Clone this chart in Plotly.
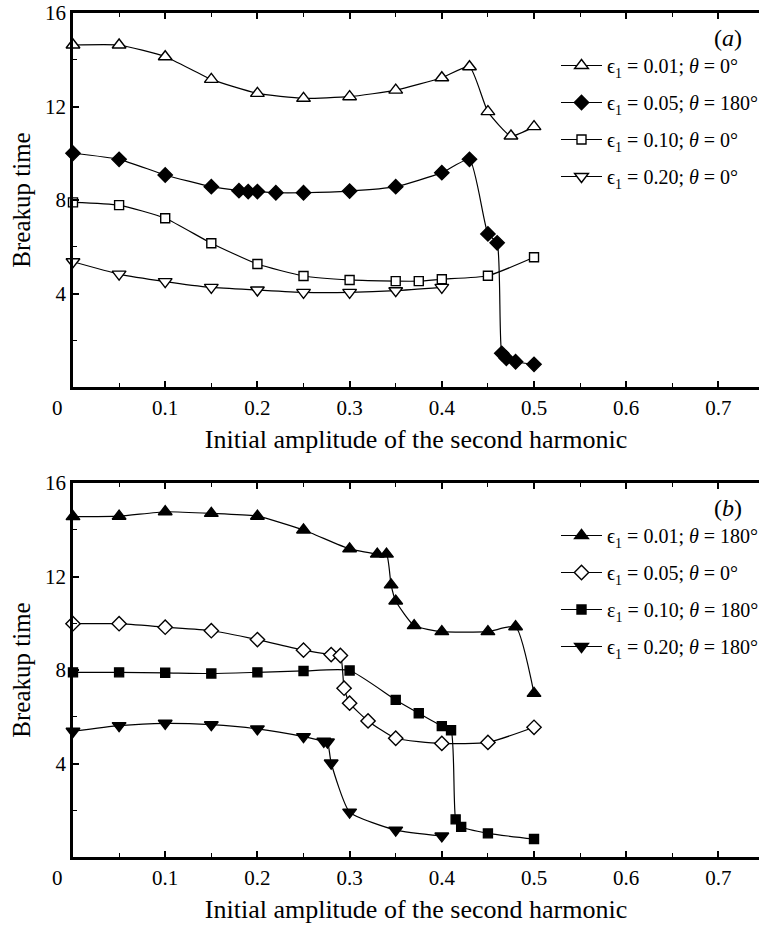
import plotly.graph_objects as go

# ---------------- data: panel (a) ----------------
a1_x = [0.0, 0.05, 0.1, 0.15, 0.2, 0.25, 0.3, 0.35, 0.4, 0.43, 0.45, 0.475, 0.5]
a1_y = [14.63, 14.63, 14.13, 13.16, 12.56, 12.35, 12.42, 12.7, 13.23, 13.7, 11.78, 10.74, 11.14]

a2_x = [0.0, 0.05, 0.1, 0.15, 0.18, 0.19, 0.2, 0.22, 0.25, 0.3, 0.35, 0.4, 0.43, 0.45, 0.46, 0.465, 0.47, 0.48, 0.5]
a2_y = [10.0, 9.74, 9.07, 8.57, 8.4, 8.36, 8.36, 8.31, 8.31, 8.38, 8.57, 9.17, 9.74, 6.55, 6.17, 1.44, 1.23, 1.08, 0.97]

a3_x = [0.0, 0.05, 0.1, 0.15, 0.2, 0.25, 0.3, 0.35, 0.375, 0.4, 0.45, 0.5]
a3_y = [7.9, 7.78, 7.22, 6.15, 5.26, 4.75, 4.58, 4.53, 4.53, 4.61, 4.76, 5.55]

a4_x = [0.0, 0.05, 0.1, 0.15, 0.2, 0.25, 0.3, 0.35, 0.4]
a4_y = [5.36, 4.83, 4.51, 4.26, 4.15, 4.05, 4.05, 4.12, 4.26]

# ---------------- data: panel (b) ----------------
b1_x = [0.0, 0.05, 0.1, 0.15, 0.2, 0.25, 0.3, 0.33, 0.34, 0.345, 0.35, 0.37, 0.4, 0.45, 0.48, 0.5]
b1_y = [14.56, 14.58, 14.77, 14.7, 14.58, 13.99, 13.18, 12.96, 12.96, 11.64, 10.95, 9.9, 9.64, 9.64, 9.85, 7.0]

b2_x = [0.0, 0.05, 0.1, 0.15, 0.2, 0.25, 0.28, 0.29, 0.294, 0.3, 0.32, 0.35, 0.4, 0.45, 0.5]
b2_y = [9.98, 9.98, 9.83, 9.68, 9.3, 8.85, 8.66, 8.62, 7.22, 6.58, 5.82, 5.08, 4.86, 4.9, 5.55]

b3_x = [0.0, 0.05, 0.1, 0.15, 0.2, 0.25, 0.3, 0.35, 0.375, 0.4, 0.41, 0.415, 0.421, 0.45, 0.5]
b3_y = [7.9, 7.9, 7.88, 7.85, 7.9, 7.96, 7.98, 6.72, 6.15, 5.6, 5.42, 1.61, 1.29, 1.01, 0.77]

b4_x = [0.0, 0.05, 0.1, 0.15, 0.2, 0.25, 0.272, 0.276, 0.28, 0.3, 0.35, 0.4]
b4_y = [5.38, 5.62, 5.72, 5.66, 5.48, 5.15, 4.95, 4.92, 4.02, 1.92, 1.15, 0.9]

# legend labels
names_a = ["ϵ<sub>1</sub> = 0.01; <i>θ</i> = 0°",
           "ϵ<sub>1</sub> = 0.05; <i>θ</i> = 180°",
           "ϵ<sub>1</sub> = 0.10; <i>θ</i> = 0°",
           "ϵ<sub>1</sub> = 0.20; <i>θ</i> = 0°"]
names_b = ["ϵ<sub>1</sub> = 0.01; <i>θ</i> = 180°",
           "ϵ<sub>1</sub> = 0.05; <i>θ</i> = 0°",
           "ε<sub>1</sub> = 0.10; <i>θ</i> = 180°",
           "ϵ<sub>1</sub> = 0.20; <i>θ</i> = 180°"]

x_ticks = [0.0, 0.1, 0.2, 0.3, 0.4, 0.5, 0.6, 0.7]
x_ticktext = ["0\u00a0\u00a0\u00a0\u00a0\u00a0\u00a0", "0.1", "0.2", "0.3", "0.4", "0.5", "0.6", "0.7"]
y_ticks = [4, 8, 12, 16]
x_title = "Initial amplitude of the second harmonic"
y_title = "Breakup time"

FONT = "Times New Roman, Liberation Serif, Tinos, DejaVu Serif, serif"
W, H = 759, 925

fig = go.Figure()

def add(x, y, name, symbol, fill, size, xa, ya, leg, grp):
    fig.add_trace(go.Scatter(
        x=x, y=y, name=name, mode="lines+markers",
        line=dict(color="black", width=1.2, shape="spline", smoothing=0.5),
        marker=dict(symbol=symbol, size=size, color=fill,
                    line=dict(color="black", width=1.4)),
        xaxis=xa, yaxis=ya, legend=leg, legendgroup=grp, cliponaxis=False))

add(a1_x, a1_y, names_a[0], "triangle-up", "white", 12, "x", "y", "legend", "a1")
add(a2_x, a2_y, names_a[1], "diamond", "black", 11, "x", "y", "legend", "a2")
add(a3_x, a3_y, names_a[2], "square", "white", 9, "x", "y", "legend", "a3")
add(a4_x, a4_y, names_a[3], "triangle-down", "white", 12, "x", "y", "legend", "a4")

add(b1_x, b1_y, names_b[0], "triangle-up", "black", 12, "x2", "y2", "legend2", "b1")
add(b2_x, b2_y, names_b[1], "diamond", "white", 11, "x2", "y2", "legend2", "b2")
add(b3_x, b3_y, names_b[2], "square", "black", 9, "x2", "y2", "legend2", "b3")
add(b4_x, b4_y, names_b[3], "triangle-down", "black", 12, "x2", "y2", "legend2", "b4")

# geometry (pixels -> paper)
left = 73 / W
top_a, bot_a = 13, 387
top_b, bot_b = 483, 857

def xaxis(anchor):
    return dict(domain=[left, 1.0], range=[0, 0.744], anchor=anchor, automargin=False,
                tickmode="array", tickvals=x_ticks, ticktext=x_ticktext,
                ticks="inside", ticklen=6, tickwidth=1.5, tickcolor="black",
                minor=dict(dtick=0.05, ticks="inside", ticklen=4, tickcolor="black", tickwidth=1),
                showline=True, linecolor="black", linewidth=2.5, mirror="ticks",
                showgrid=False, zeroline=False,
                tickfont=dict(family=FONT, size=21, color="black"),
                title=dict(text=x_title, font=dict(family=FONT, size=26, color="black"), standoff=11))

def yaxis(anchor, top, bot):
    return dict(domain=[(H - bot) / H, (H - top) / H], range=[0, 16], anchor=anchor, automargin=False,
                tickmode="array", tickvals=y_ticks,
                ticks="inside", ticklen=6, tickwidth=1.5, tickcolor="black",
                minor=dict(dtick=2, ticks="inside", ticklen=4, tickcolor="black", tickwidth=1),
                showline=True, linecolor="black", linewidth=2.5, mirror=False,
                showgrid=False, zeroline=False,
                tickfont=dict(family=FONT, size=21, color="black"),
                title=dict(text=y_title, font=dict(family=FONT, size=25, color="black"), standoff=8))

leg_common = dict(font=dict(family=FONT, size=20, color="black"), bgcolor="rgba(0,0,0,0)",
                  xanchor="left", yanchor="top", itemwidth=41, tracegroupgap=8,
                  traceorder="grouped", itemsizing="trace")

fig.update_layout(
    width=W, height=H, margin=dict(l=0, r=0, t=0, b=0, autoexpand=False),
    paper_bgcolor="white", plot_bgcolor="white", showlegend=True,
    font=dict(family=FONT),
    xaxis=xaxis("y"), yaxis=yaxis("x", top_a, bot_a),
    xaxis2=xaxis("y2"), yaxis2=yaxis("x2", top_b, bot_b),
    legend=dict(x=556 / W, y=1 - 46 / H, **leg_common),
    legend2=dict(x=556 / W, y=1 - (46 + 470) / H, **leg_common),
    annotations=[
        dict(text="(<i>a</i>)", xref="paper", yref="paper", x=728 / W, y=1 - 38 / H,
             xanchor="center", yanchor="middle",
             showarrow=False, font=dict(family=FONT, size=24, color="black")),
        dict(text="(<i>b</i>)", xref="paper", yref="paper", x=728 / W, y=1 - 508 / H,
             xanchor="center", yanchor="middle",
             showarrow=False, font=dict(family=FONT, size=24, color="black")),
    ],
)

fig.write_html("out.html")
